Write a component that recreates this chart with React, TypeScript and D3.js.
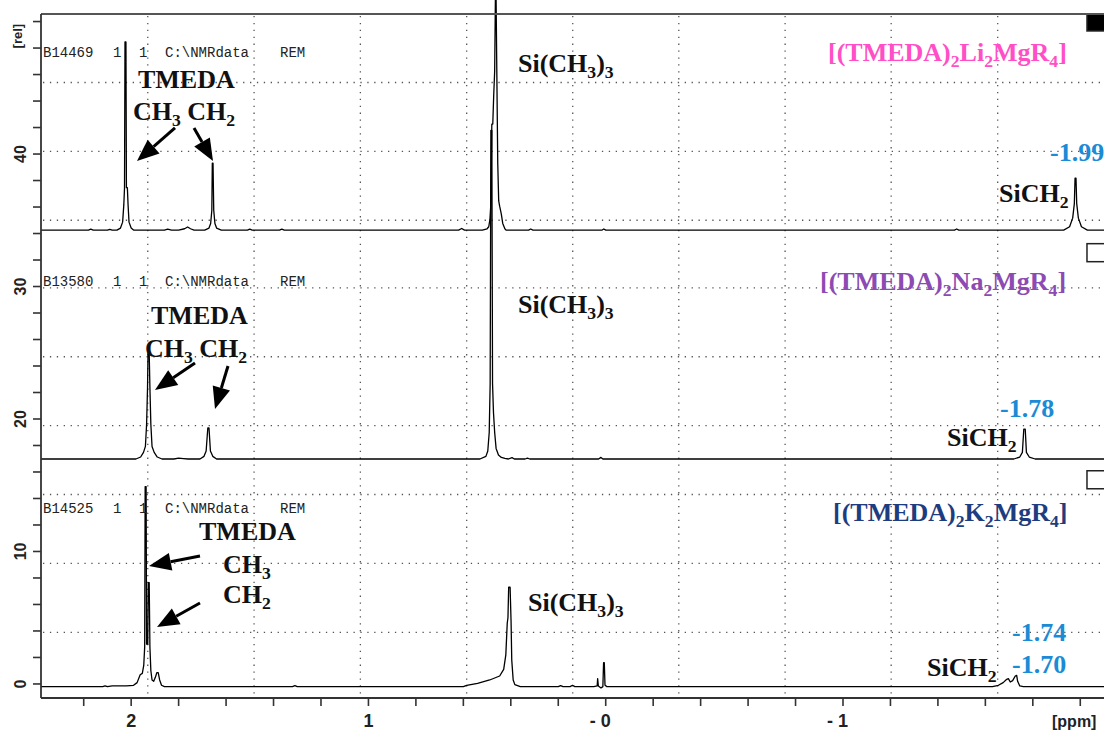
import React from "react";
import * as d3 from "d3";

const WIDTH = 1104;
const HEIGHT = 731;

// ---- axis data ----
const ppmDomain: [number, number] = [2.38, -2.1];
const relDomain: [number, number] = [-1.06, 50.57];
const ppmTicks = [2.2, 2.0, 1.8, 1.6, 1.4, 1.2, 1.0, 0.8, 0.6, 0.4, 0.2, 0.0, -0.2, -0.4, -0.6, -0.8, -1.0, -1.2, -1.4, -1.6, -1.8, -2.0];
const ppmTickLabels = [
  { v: 2, t: "2" },
  { v: 1, t: "1" },
  { v: 0, t: "- 0" },
  { v: -1, t: "- 1" },
];
const relTicks = [0, 2, 4, 6, 8, 10, 12, 14, 16, 18, 20, 22, 24, 26, 28, 30, 32, 34, 36, 38, 40, 42, 44, 46, 48, 50];
const relTickLabels = [0, 10, 20, 30, 40];
const gridPpm = [1.93, 1.482, 1.034, 0.586, 0.139, -0.308, -0.756, -1.203, -1.652];
const gridRel = [45.4, 40.2, 35.0, 29.9, 24.7, 19.5, 14.3, 9.1, 3.9];

// ---- spectra: [ppm, intensity above the trace baseline] ----
const liSpectrum: [number, number][] = [
  [2.38, 0], [2.18, 0], [2.17, 0.07], [2.16, 0], [2.1, 0], [2.09, 0.06], [2.08, 0],
  [2.06, 0], [2.045, 0.15], [2.036, 0.6], [2.031, 1.9], [2.028, 3.2], [2.026, 14.2], [2.022, 14.2], [2.02, 3.2], [2.016, 3.2], [2.013, 1.9], [2.009, 0.6], [2.0, 0.15], [1.99, 0],
  [1.86, 0], [1.846, 0.07], [1.83, 0],
  [1.8, 0], [1.775, 0.1], [1.762, 0.23], [1.75, 0.1], [1.735, 0],
  [1.69, 0], [1.672, 0.15], [1.665, 0.5], [1.66, 1.5], [1.658, 5.06], [1.655, 5.06], [1.652, 1.5], [1.647, 0.5], [1.64, 0.15], [1.62, 0],
  [1.51, 0], [1.5, 0.07], [1.49, 0], [1.375, 0], [1.365, 0.07], [1.355, 0],
  [0.62, 0], [0.607, 0.12], [0.595, 0],
  [0.52, 0], [0.5, 0.1], [0.493, 0.25], [0.488, 0.8], [0.484, 2.0], [0.48, 8.0], [0.476, 8.0], [0.472, 10.2], [0.468, 12.0], [0.465, 17.4], [0.462, 17.4], [0.459, 12.0], [0.455, 5.0], [0.451, 2.2], [0.447, 1.8], [0.44, 1.2], [0.434, 0.5], [0.425, 0.1], [0.42, 0],
  [0.325, 0], [0.316, 0.08], [0.307, 0], [0.015, 0], [0.008, 0.08], [0.0, 0],
  [-1.47, 0], [-1.479, 0.08], [-1.488, 0],
  [-1.93, 0], [-1.955, 0.25], [-1.968, 0.9], [-1.975, 2.0], [-1.978, 3.92], [-1.982, 3.92], [-1.985, 2.0], [-1.992, 0.9], [-2.005, 0.25], [-2.03, 0], [-2.1, 0],
];

const naSpectrum: [number, number][] = [
  [2.38, 0], [2.1, 0],
  [1.98, 0], [1.96, 0.15], [1.948, 0.5], [1.94, 0.95], [1.935, 2.6], [1.931, 5.4], [1.929, 8.0], [1.924, 8.0], [1.921, 5.4], [1.917, 2.6], [1.912, 0.95], [1.903, 0.5], [1.89, 0.15], [1.87, 0],
  [1.82, 0], [1.8, 0.06], [1.78, 0.03], [1.76, 0],
  [1.71, 0], [1.693, 0.2], [1.684, 0.6], [1.677, 2.34], [1.672, 2.34], [1.666, 0.6], [1.656, 0.2], [1.64, 0],
  [0.53, 0], [0.505, 0.2], [0.497, 0.6], [0.491, 2.0], [0.487, 5.7], [0.484, 24.8], [0.48, 24.8], [0.477, 5.7], [0.473, 3.5], [0.468, 2.0], [0.462, 0.8], [0.452, 0.3], [0.44, 0.12], [0.425, 0.05], [0.41, 0], [0.395, 0.1], [0.385, 0],
  [0.34, 0], [0.33, 0.06], [0.32, 0],
  [0.03, 0], [0.02, 0.12], [0.012, 0],
  [-1.72, 0], [-1.745, 0.15], [-1.756, 0.5], [-1.762, 2.26], [-1.768, 2.26], [-1.773, 0.5], [-1.785, 0.15], [-1.81, 0], [-2.1, 0],
];

const kSpectrum: [number, number][] = [
  [2.38, 0], [2.12, 0], [2.11, 0.06], [2.1, 0],
  [2.08, 0.05], [2.02, 0.05], [1.99, 0.1], [1.975, 0.3], [1.962, 0.9], [1.953, 1.0], [1.947, 1.6], [1.943, 3.0], [1.941, 15.1], [1.937, 15.1], [1.935, 3.2], [1.93, 3.2], [1.928, 7.85], [1.924, 7.85], [1.921, 3.0], [1.917, 1.2], [1.912, 0.5], [1.905, 0.4], [1.898, 0.7], [1.892, 1.05], [1.886, 1.05], [1.88, 0.5], [1.872, 0.1], [1.86, 0],
  [1.32, 0], [1.31, 0.08], [1.3, 0],
  [0.6, 0], [0.586, 0.1], [0.54, 0.25], [0.489, 0.5], [0.447, 0.8], [0.43, 1.3], [0.421, 2.4], [0.415, 4.8], [0.412, 5.2], [0.409, 7.5], [0.403, 7.5], [0.399, 5.0], [0.396, 2.0], [0.39, 0.5], [0.383, 0.15], [0.36, 0],
  [0.2, 0], [0.19, 0.08], [0.18, 0], [0.15, 0], [0.14, 0.1], [0.13, 0],
  [0.05, 0], [0.036, 0.05], [0.034, 0.6], [0.031, 0.05], [0.02, -0.1], [0.012, 0], [0.009, 1.8], [0.006, 1.8], [0.003, 0.1], [-0.005, 0],
  [-1.63, 0], [-1.655, 0.1], [-1.675, 0.3], [-1.69, 0.55], [-1.697, 0.6], [-1.705, 0.35], [-1.715, 0.45], [-1.726, 0.8], [-1.732, 0.85], [-1.736, 0.4], [-1.745, 0.05], [-1.76, 0], [-2.1, 0],
];

const traceOffsets = [34.26, 16.98, -0.2];
const traceHeaders = ["B14469", "B13580", "B14525"];

type Part = [string, boolean];
type Label = { ppm: number; rel: number; parts: Part[]; color: string };
type ArrowDef = { from: [number, number]; to: [number, number] };

const PINK = "#ff4ec6";
const PURPLE = "#8c4bb2";
const NAVY = "#1d3d80";
const BLUE = "#1b8bd6";
const BLACK = "#111";

const labels: Label[] = [
  // Li
  { ppm: 1.9712, rel: 44.98, parts: [["TMEDA", false]], color: BLACK },
  { ppm: 1.9923, rel: 42.57, parts: [["CH", false], ["3", true], [" CH", false], ["2", true]], color: BLACK },
  { ppm: 0.3697, rel: 46.19, parts: [["Si(CH", false], ["3", true], [")", false], ["3", true]], color: BLACK },
  { ppm: -0.9368, rel: 47.02, parts: [["[(TMEDA)", false], ["2", true], ["Li", false], ["2", true], ["MgR", false], ["4", true], ["]", false]], color: PINK },
  { ppm: -1.8724, rel: 39.47, parts: [["-1.99", false]], color: BLUE },
  { ppm: -1.6575, rel: 36.38, parts: [["SiCH", false], ["2", true]], color: BLACK },
  // Na
  { ppm: 1.9164, rel: 27.17, parts: [["TMEDA", false]], color: BLACK },
  { ppm: 1.9417, rel: 24.68, parts: [["CH", false], ["3", true], [" CH", false], ["2", true]], color: BLACK },
  { ppm: 0.3697, rel: 28.0, parts: [["Si(CH", false], ["3", true], [")", false], ["3", true]], color: BLACK },
  { ppm: -0.9031, rel: 29.74, parts: [["[(TMEDA)", false], ["2", true], ["Na", false], ["2", true], ["MgR", false], ["4", true], ["]", false]], color: PURPLE },
  { ppm: -1.6617, rel: 20.15, parts: [["-1.78", false]], color: BLUE },
  { ppm: -1.4383, rel: 17.96, parts: [["SiCH", false], ["2", true]], color: BLACK },
  // K
  { ppm: 1.7141, rel: 10.87, parts: [["TMEDA", false]], color: BLACK },
  { ppm: 1.613, rel: 8.375, parts: [["CH", false], ["3", true]], color: BLACK },
  { ppm: 1.613, rel: 6.11, parts: [["CH", false], ["2", true]], color: BLACK },
  { ppm: 0.3275, rel: 5.507, parts: [["Si(CH", false], ["3", true], [")", false], ["3", true]], color: BLACK },
  { ppm: -0.9579, rel: 12.3, parts: [["[(TMEDA)", false], ["2", true], ["K", false], ["2", true], ["MgR", false], ["4", true], ["]", false]], color: NAVY },
  { ppm: -1.7123, rel: 3.24, parts: [["-1.74", false]], color: BLUE },
  { ppm: -1.7123, rel: 0.827, parts: [["-1.70", false]], color: BLUE },
  { ppm: -1.354, rel: 0.6006, parts: [["SiCH", false], ["2", true]], color: BLACK },
];

const arrows: ArrowDef[] = [
  { from: [1.8153, 41.97], to: [1.9754, 39.47] },
  { from: [1.7352, 41.97], to: [1.6551, 39.47] },
  { from: [1.731, 24.23], to: [1.8996, 22.19] },
  { from: [1.5919, 24.0], to: [1.6467, 20.75] },
  { from: [1.7099, 9.66], to: [1.9248, 8.9] },
  { from: [1.7099, 6.11], to: [1.8911, 4.3] },
];

const headerRel = [47.32, 30.04, 12.9];
const headerTokens = [
  { ppm: 2.3716, t: "" },
  { ppm: 2.0766, t: "1" },
  { ppm: 1.967, t: "1" },
  { ppm: 1.8574, t: "C:\\NMRdata" },
  { ppm: 1.3728, t: "REM" },
];

// legend boxes: [ppmLeft, relTop, relBottom, filled]
const boxes: [number, number, number, boolean][] = [
  [-2.0283, 50.57, 49.29, true],
  [-2.0283, 33.29, 31.93, false],
  [-2.0283, 16.15, 14.79, false],
];

const SERIF = "'Liberation Serif','Times New Roman',Times,serif";
const SANS = "'Liberation Sans',Arial,Helvetica,sans-serif";
const MONO = "'Liberation Mono','Courier New',monospace";

function RichText({ x, y, parts, color, size }: { x: number; y: number; parts: Part[]; color: string; size: number }) {
  const shift = size * 0.24;
  let cur = 0;
  return (
    <text x={x} y={y} fontFamily={SERIF} fontWeight="bold" fontSize={size} fill={color}>
      {parts.map(([t, sub], i) => {
        const target = sub ? shift : 0;
        const dy = target - cur;
        cur = target;
        return (
          <tspan key={i} dy={dy} fontSize={sub ? size * 0.68 : size} style={{ whiteSpace: "pre" }}>
            {t}
          </tspan>
        );
      })}
    </text>
  );
}

export default function App() {
  const left = 41, right = 1104, top = 14, bottom = 698;
  const x = d3.scaleLinear().domain(ppmDomain).range([left, right]);
  const y = d3.scaleLinear().domain(relDomain).range([bottom, top]);

  const spectra = [liSpectrum, naSpectrum, kSpectrum];
  const paths = spectra.map((s, i) =>
    d3
      .line<[number, number]>()
      .x((d) => x(d[0]))
      .y((d) => y(d[1] + traceOffsets[i]))(s) as string
  );

  return (
    <svg
      width={WIDTH}
      height={HEIGHT}
      viewBox={`0 0 ${WIDTH} ${HEIGHT}`}
      style={{ position: "fixed", left: 0, top: 0, background: "#fff", display: "block" }}
    >
      <defs>
        <clipPath id="plotclip">
          <rect x={left} y={0} width={right - left} height={bottom} />
        </clipPath>
      </defs>

      {/* grid */}
      <g stroke="#555" strokeWidth={1.3} strokeDasharray="1.3 5.6">
        {gridPpm.map((g, i) => (
          <line key={"gx" + i} x1={x(g)} x2={x(g)} y1={top + 2} y2={bottom - 2} />
        ))}
        {gridRel.map((g, i) => (
          <line key={"gy" + i} x1={left + 2} x2={right} y1={y(g)} y2={y(g)} />
        ))}
      </g>

      {/* spectra */}
      <g clipPath="url(#plotclip)" fill="none" stroke="#000" strokeWidth={1.3} strokeLinejoin="round">
        {paths.map((p, i) => (
          <path key={i} d={p} />
        ))}
      </g>

      {/* header text */}
      {traceHeaders.map((h, i) => (
        <g key={"h" + i} fontFamily={MONO} fontSize={14} fill="#222">
          {headerTokens.map((tk, j) => (
            <text key={j} x={x(tk.ppm)} y={y(headerRel[i])}>
              {j === 0 ? h : tk.t}
            </text>
          ))}
        </g>
      ))}

      {/* labels */}
      {labels.map((l, i) => (
        <RichText key={"l" + i} x={x(l.ppm)} y={y(l.rel)} parts={l.parts} color={l.color} size={26} />
      ))}

      {/* arrows */}
      {arrows.map((a, i) => {
        const x1 = x(a.from[0]), y1 = y(a.from[1]);
        const x2 = x(a.to[0]), y2 = y(a.to[1]);
        const ang = Math.atan2(y2 - y1, x2 - x1);
        const L = 22, hw = 9;
        const bx = x2 - L * Math.cos(ang);
        const by = y2 - L * Math.sin(ang);
        const pts = [
          [x2, y2],
          [bx + hw * Math.sin(ang), by - hw * Math.cos(ang)],
          [bx - hw * Math.sin(ang), by + hw * Math.cos(ang)],
        ]
          .map((p) => p.join(","))
          .join(" ");
        return (
          <g key={"a" + i}>
            <line x1={x1} y1={y1} x2={bx} y2={by} stroke="#000" strokeWidth={3} />
            <polygon points={pts} fill="#000" />
          </g>
        );
      })}

      {/* boxes */}
      {boxes.map((b, i) => (
        <rect
          key={"b" + i}
          x={x(b[0])}
          y={y(b[1]) + (b[3] ? 0 : 0.75)}
          width={right - x(b[0]) + 2}
          height={y(b[2]) - y(b[1])}
          fill={b[3] ? "#000" : "#fff"}
          stroke="#222"
          strokeWidth={1.5}
        />
      ))}

      {/* frame & axes */}
      <line x1={left} x2={right} y1={top} y2={top} stroke="#555" strokeWidth={2} />
      <line x1={left} x2={left} y1={top} y2={bottom} stroke="#333" strokeWidth={1.8} />
      <line x1={left} x2={right} y1={bottom} y2={bottom} stroke="#333" strokeWidth={1.8} />

      {ppmTicks.map((t, i) => (
        <line key={"xt" + i} x1={x(t)} x2={x(t)} y1={bottom} y2={bottom + 8} stroke="#333" strokeWidth={1.6} />
      ))}
      {ppmTickLabels.map((t, i) => (
        <text
          key={"xl" + i}
          x={x(t.v) + 5}
          y={727}
          textAnchor="end"
          fontFamily={SANS}
          fontWeight="bold"
          fontSize={18}
          fill="#222"
          style={{ whiteSpace: "pre" }}
        >
          {t.t}
        </text>
      ))}
      <text x={1052} y={727} fontFamily={SANS} fontWeight="bold" fontSize={16} fill="#222">
        [ppm]
      </text>

      {relTicks.map((t, i) => (
        <line key={"yt" + i} x1={left - 8} x2={left} y1={y(t)} y2={y(t)} stroke="#333" strokeWidth={1.6} />
      ))}
      {relTickLabels.map((t, i) => (
        <text
          key={"yl" + i}
          transform={`translate(26,${y(t)}) rotate(-90)`}
          textAnchor="middle"
          fontFamily={SANS}
          fontWeight="bold"
          fontSize={16}
          fill="#222"
        >
          {t}
        </text>
      ))}
      <text transform={`translate(22,${y(48.9)}) rotate(-90)`} textAnchor="middle" fontFamily={SANS} fontWeight="bold" fontSize={13} fill="#222">
        [rel]
      </text>
    </svg>
  );
}
